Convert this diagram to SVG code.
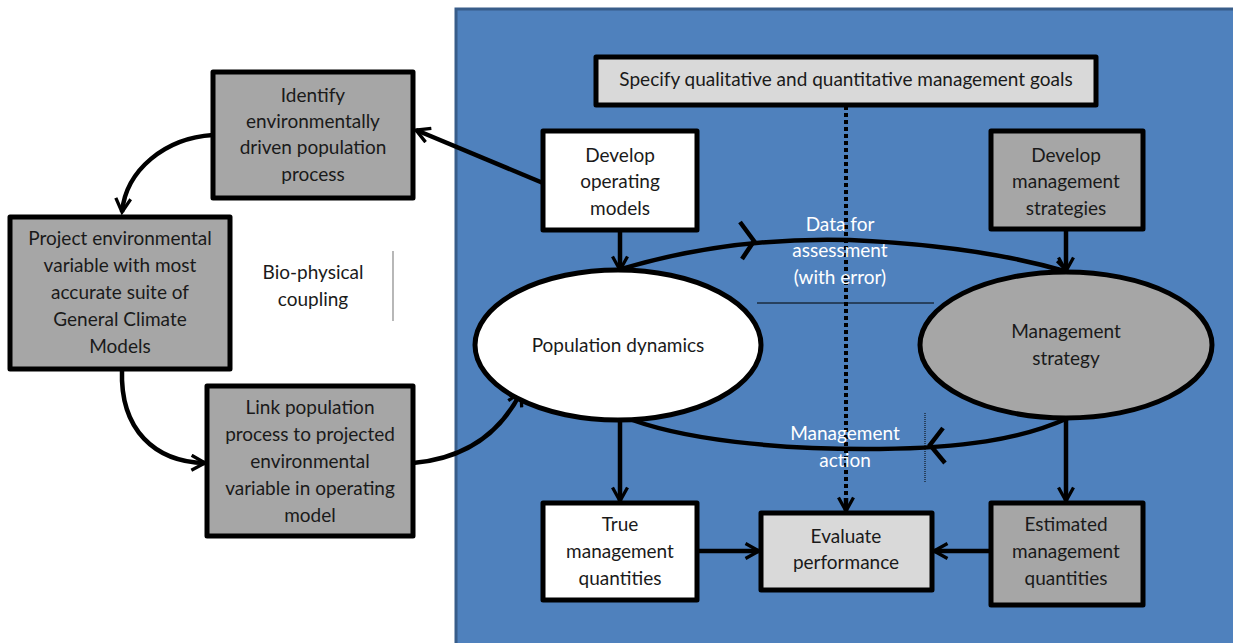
<svg xmlns="http://www.w3.org/2000/svg" width="1233" height="643" viewBox="0 0 1233 643">
<defs>
<style>
.box{stroke:#000;stroke-width:5;stroke-linejoin:round}
.w{fill:#fff}.g{fill:#a6a6a6}.lg{fill:#d9d9d9}
.t{font-family:Lato,"Liberation Sans",sans-serif;font-size:19px;fill:#1a1a1a;text-anchor:middle}
.tw{font-family:Lato,"Liberation Sans",sans-serif;font-size:19px;fill:#fff;text-anchor:middle}
.c{fill:none;stroke:#000;stroke-width:4.5}
.thin{fill:none;stroke:#000;stroke-width:1}
</style>
<marker id="ah" viewBox="0 0 12 12" refX="10" refY="6" markerWidth="4" markerHeight="4" orient="auto" markerUnits="strokeWidth">
<path d="M1,1 L10,6 L1,11" fill="none" stroke="#000" stroke-width="2.2"/>
</marker>
</defs>
<rect x="0" y="0" width="1233" height="643" fill="#fff"/>
<rect id="panel" x="456" y="9" width="780" height="640" fill="#4f81bd" stroke="#385d8a" stroke-width="3"/>

<g id="connectors">
<path class="c" d="M543,183 L416,130" marker-end="url(#ah)"/>
<path class="c" d="M213,135 C165,138 126,170 122,212" marker-end="url(#ah)"/>
<path class="c" d="M122,370 C120,430 155,462 205,463" marker-end="url(#ah)"/>
<path class="c" d="M413,463 C470,458 503,428 521,392" marker-end="url(#ah)"/>
<path class="c" d="M620,229 L620,270" marker-end="url(#ah)"/>
<path class="c" d="M1066,229 L1066,271" marker-end="url(#ah)"/>
<path class="c" d="M618,270 C700,245 780,238 850,240 C940,244 1010,255 1068,272" marker-end="url(#ah)"/>
<path class="c" d="M740,222 L754,241 L742,259" stroke-width="3.5"/>
<path class="c" d="M1068,418 C1020,440 960,448 880,449 C780,450 680,440 622,416"/>
<path class="c" d="M943,428 L930,445 L945,463" stroke-width="3.5"/>
<path class="c" d="M620,418 L620,501" marker-end="url(#ah)"/>
<path class="c" d="M1066,418 L1066,501" marker-end="url(#ah)"/>
<path class="c" d="M697,551 L759,551" marker-end="url(#ah)"/>
<path class="c" d="M991,551 L934,551" marker-end="url(#ah)"/>
<path d="M846,106 L846,500" fill="none" stroke="#000" stroke-width="4" stroke-dasharray="4,3"/>
<path class="c" d="M846,498 L846,511" marker-end="url(#ah)"/>
<path class="thin" d="M757,303 L934,303"/>
<path class="thin" d="M925,413 L925,482" stroke-dasharray="1,1"/>
<path d="M393,251 L393,321" stroke="#888" stroke-width="1.2"/>
</g>

<g id="goals">
<rect class="box lg" x="596" y="57" width="500" height="48"/>
<text class="t" x="846" y="86">Specify qualitative  and quantitative management goals</text>
</g>
<g id="dev-operating">
<rect class="box w" x="543" y="131" width="154" height="99"/>
<text class="t" x="620" y="162">Develop</text>
<text class="t" x="620" y="188">operating</text>
<text class="t" x="620" y="215">models</text>
</g>
<g id="dev-strategies">
<rect class="box g" x="991" y="131" width="152" height="98"/>
<text class="t" x="1066" y="162">Develop</text>
<text class="t" x="1066" y="188">management</text>
<text class="t" x="1066" y="215">strategies</text>
</g>
<g id="identify">
<rect class="box g" x="213" y="72" width="200" height="126"/>
<text class="t" x="313" y="102">Identify</text>
<text class="t" x="313" y="128">environmentally</text>
<text class="t" x="313" y="154">driven population</text>
<text class="t" x="313" y="181">process</text>
</g>
<g id="project">
<rect class="box g" x="10" y="217" width="220" height="152"/>
<text class="t" x="120" y="245">Project environmental</text>
<text class="t" x="120" y="272">variable with  most</text>
<text class="t" x="120" y="299">accurate suite of</text>
<text class="t" x="120" y="326">General Climate</text>
<text class="t" x="120" y="353">Models</text>
</g>
<g id="biophysical">
<text class="t" x="313" y="279">Bio-physical</text>
<text class="t" x="313" y="306">coupling</text>
</g>
<g id="link">
<rect class="box g" x="207" y="386" width="206" height="150"/>
<text class="t" x="310" y="414">Link population</text>
<text class="t" x="310" y="441">process to projected</text>
<text class="t" x="310" y="468">environmental</text>
<text class="t" x="310" y="495">variable in operating</text>
<text class="t" x="310" y="522">model</text>
</g>
<g id="pop-dynamics">
<ellipse class="box w" cx="618" cy="345" rx="143" ry="75"/>
<text class="t" x="618" y="352">Population dynamics</text>
</g>
<g id="mgmt-strategy">
<ellipse class="box g" cx="1066" cy="345" rx="146" ry="73"/>
<text class="t" x="1066" y="338">Management</text>
<text class="t" x="1066" y="365">strategy</text>
</g>
<g id="data-label">
<text class="tw" x="840" y="231">Data for</text>
<text class="tw" x="840" y="257">assessment</text>
<text class="tw" x="840" y="284">(with error)</text>
</g>
<g id="action-label">
<text class="tw" x="845" y="440">Management</text>
<text class="tw" x="845" y="467">action</text>
</g>
<g id="true-q">
<rect class="box w" x="543" y="503" width="154" height="97"/>
<text class="t" x="620" y="531">True</text>
<text class="t" x="620" y="558">management</text>
<text class="t" x="620" y="585">quantities</text>
</g>
<g id="evaluate">
<rect class="box lg" x="761" y="513" width="171" height="77"/>
<text class="t" x="846" y="543">Evaluate</text>
<text class="t" x="846" y="569">performance</text>
</g>
<g id="estimated-q">
<rect class="box g" x="991" y="503" width="152" height="102"/>
<text class="t" x="1066" y="531">Estimated</text>
<text class="t" x="1066" y="558">management</text>
<text class="t" x="1066" y="585">quantities</text>
</g>
</svg>
